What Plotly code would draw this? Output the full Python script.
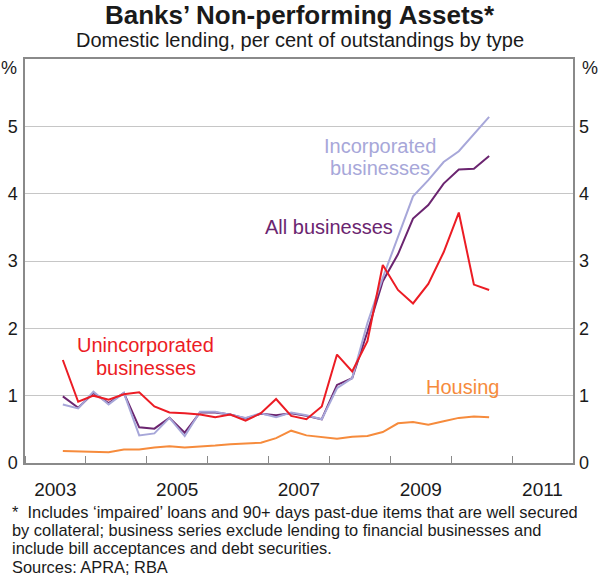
import plotly.graph_objects as go

quarters = [
    "2003-07-01", "2003-10-01", "2004-01-01", "2004-04-01", "2004-07-01", "2004-10-01",
    "2005-01-01", "2005-04-01", "2005-07-01", "2005-10-01", "2006-01-01", "2006-04-01",
    "2006-07-01", "2006-10-01", "2007-01-01", "2007-04-01", "2007-07-01", "2007-10-01",
    "2008-01-01", "2008-04-01", "2008-07-01", "2008-10-01", "2009-01-01", "2009-04-01",
    "2009-07-01", "2009-10-01", "2010-01-01", "2010-04-01", "2010-07-01",
]

unincorporated = [1.53, 0.91, 1.00, 0.94, 1.02, 1.05, 0.84, 0.75, 0.74, 0.72, 0.68, 0.72,
                  0.63, 0.74, 0.95, 0.70, 0.65, 0.84, 1.61, 1.36, 1.81, 2.94, 2.57, 2.37,
                  2.66, 3.13, 3.72, 2.65, 2.57]
all_businesses = [0.99, 0.82, 1.04, 0.89, 1.04, 0.53, 0.51, 0.67, 0.45, 0.75, 0.75, 0.72,
                  0.66, 0.73, 0.71, 0.74, 0.70, 0.65, 1.16, 1.26, 1.95, 2.70, 3.10, 3.63,
                  3.83, 4.15, 4.36, 4.37, 4.56]
incorporated = [0.87, 0.81, 1.06, 0.87, 1.04, 0.41, 0.44, 0.67, 0.40, 0.76, 0.76, 0.72,
                0.67, 0.74, 0.68, 0.75, 0.71, 0.65, 1.11, 1.26, 2.08, 2.75, 3.35, 3.96,
                4.20, 4.47, 4.63, 4.89, 5.14]
housing = [0.18, 0.17, 0.17, 0.16, 0.20, 0.20, 0.23, 0.25, 0.23, 0.24, 0.26, 0.28,
           0.29, 0.30, 0.37, 0.48, 0.41, 0.38, 0.36, 0.39, 0.40, 0.46, 0.59, 0.61,
           0.57, 0.62, 0.67, 0.69, 0.68]

year_label_pos = ["2003-07-02", "2005-07-02", "2007-07-02", "2009-07-02", "2011-07-02"]
year_labels = ["2003", "2005", "2007", "2009", "2011"]
y_ticks = [0, 1, 2, 3, 4, 5]

FONT = "Arial, Liberation Sans, sans-serif"
RED = "#ec1c24"
PURPLE = "#6b2570"
LAVENDER = "#a7a7d9"
ORANGE = "#f68b3c"
FRAME = "#8a8a8a"
TXT = "#1a1a1a"

L, R, T, B = 25, 27, 59, 114
W, H = 600, 577
PW, PH = W - L - R, H - T - B


def px_x(px):
    return (px - L) / PW


def px_y(py):
    return (H - B - py) / PH


fig = go.Figure()
series = [
    (housing, ORANGE, "Housing"),
    (all_businesses, PURPLE, "All businesses"),
    (incorporated, LAVENDER, "Incorporated businesses"),
    (unincorporated, RED, "Unincorporated businesses"),
]
for vals, col, name in series:
    fig.add_trace(go.Scatter(
        x=quarters, y=vals, mode="lines", name=name,
        xperiod="M3", xperiodalignment="middle",
        line=dict(color=col, width=2), showlegend=False,
    ))
# invisible trace to anchor the right-hand axis
fig.add_trace(go.Scatter(x=[quarters[0]], y=[0], yaxis="y2", mode="markers",
                         xperiod="M3", xperiodalignment="middle",
                         marker=dict(opacity=0), showlegend=False, hoverinfo="skip"))

fig.update_layout(
    width=W, height=H,
    margin=dict(l=L, r=R, t=T, b=B),
    paper_bgcolor="white", plot_bgcolor="white",
    font=dict(family=FONT, color=TXT),
    xaxis=dict(
        type="date", range=["2003-01-01", "2012-01-01"], automargin=False,
        tickvals=year_label_pos, ticktext=year_labels, ticks="",
        tickfont=dict(size=19), showgrid=False, ticklabelstandoff=8,
        showline=True, mirror=True, linecolor=FRAME, linewidth=1.5,
        minor=dict(ticks="inside", ticklen=7, tickcolor=FRAME, tickwidth=1.2,
                   dtick="M12", tick0="2004-01-01", showgrid=False),
        zeroline=False,
    ),
    yaxis=dict(
        range=[0, 6], tickvals=y_ticks, tickfont=dict(size=18), automargin=False,
        showgrid=True, gridcolor="#c6c6c6", gridwidth=1, ticklabelstandoff=2,
        showline=True, mirror=True, linecolor=FRAME, linewidth=1.5,
        zeroline=False, ticks="",
    ),
    yaxis2=dict(
        range=[0, 6], tickvals=y_ticks, tickfont=dict(size=18), automargin=False,
        overlaying="y", side="right", showgrid=False, zeroline=False,
        showline=False, ticks="", ticklabelstandoff=5,
    ),
)


def text(txt, xp, yp, size, color=TXT, xanchor="center", pad=1):
    fig.add_annotation(text=txt, xref="paper", yref="paper", x=px_x(xp), y=px_y(yp),
                       xanchor=xanchor, yanchor="middle", showarrow=False,
                       borderpad=pad, font=dict(size=size, color=color))


text("<b>Banks’ Non-performing Assets*</b>", 300, 15, 26, pad=0)
text("Domestic lending, per cent of outstandings by type", 300, 39.5, 20)
text("%", 9, 68, 18)
text("%", 590, 68, 18)

# series labels
text("Incorporated", 379.5, 145.5, 20, LAVENDER)
text("businesses", 379.5, 168, 20, LAVENDER)
text("All businesses", 329, 226.5, 20, PURPLE)
text("Unincorporated", 145.5, 345, 20, RED)
text("businesses", 145.5, 368, 20, RED)
text("Housing", 462.5, 386.5, 20, ORANGE)

foot_lines = [
    "*  Includes ‘impaired’ loans and 90+ days past-due items that are well secured",
    "by collateral; business series exclude lending to financial businesses and",
    "include bill acceptances and debt securities.",
    "Sources: APRA; RBA",
]
for i, line in enumerate(foot_lines):
    text(line, 10, 511.5 + 18.4 * i, 16.4, xanchor="left")

fig.write_html("out.html", config={"displayModeBar": False},
               post_script="document.body.style.margin='0';")
